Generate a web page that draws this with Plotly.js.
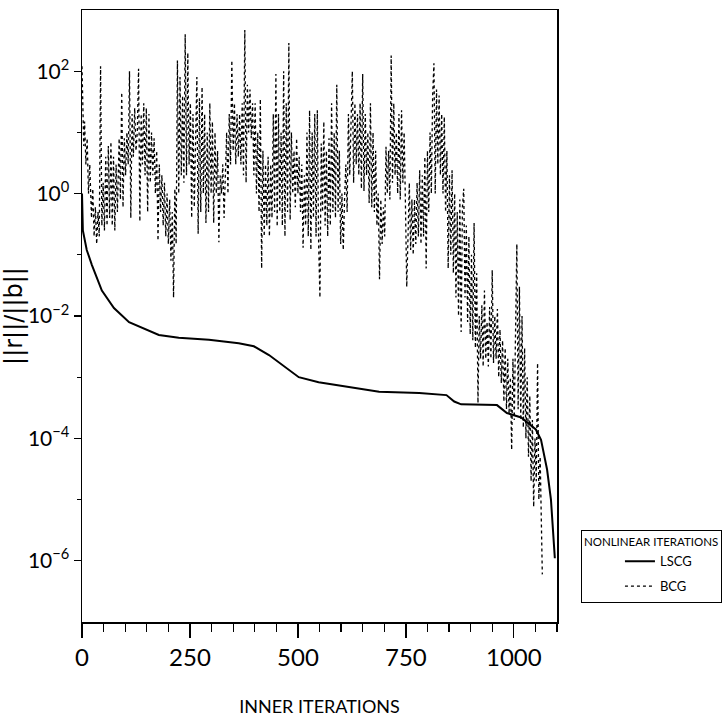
<!DOCTYPE html>
<html>
<head>
<meta charset="utf-8">
<script src="https://cdn.plot.ly/plotly-3.0.1.min.js"></script>
<style>
  html, body { margin: 0; padding: 0; background: #fff; }
  #chart { width: 724px; height: 720px; }
</style>
</head>
<body>
<div id="chart"></div>
<script>
// Relative residual ||r||/||b|| against inner iteration count.

// LSCG: smooth, monotone decrease
const lscgIter = [0, 2, 11, 23, 46, 74, 109, 143, 178, 224, 294, 363, 398, 433, 479, 502, 548,
  618, 688, 781, 844, 862, 878, 961, 984, 1017, 1051, 1063, 1077, 1086, 1095];
const lscgResid = [1.0, 2.5e-1, 1.2e-1, 6.8e-2, 2.6e-2, 1.35e-2, 7.9e-3, 6.3e-3, 4.9e-3, 4.4e-3,
  4.1e-3, 3.6e-3, 3.2e-3, 2.3e-3, 1.3e-3, 1.0e-3, 8.3e-4, 6.9e-4, 5.8e-4, 5.5e-4, 5.1e-4,
  4.0e-4, 3.6e-4, 3.5e-4, 2.6e-4, 2.2e-4, 1.4e-4, 9.5e-5, 3.1e-5, 1.0e-5, 1.1e-6];

// BCG: strongly oscillating residual
const bcgIter = [0, 2, 4, 6, 9, 12, 15, 18, 22, 25, 28, 31, 34, 37, 40, 43, 46, 49, 52, 55, 58,
  61, 64, 67, 70, 73, 76, 79, 82, 86, 89, 92, 95, 98, 101, 104, 107, 110, 113, 116, 119, 122,
  125, 128, 131, 134, 137, 140, 143, 146, 149, 152, 155, 158, 161, 164, 167, 170, 173, 176,
  179, 182, 185, 188, 191, 194, 197, 200, 203, 206, 209, 212, 215, 218, 221, 224, 227, 230,
  233, 236, 239, 242, 245, 248, 251, 254, 257, 260, 263, 266, 269, 272, 275, 278, 281, 284,
  287, 290, 293, 296, 299, 302, 305, 308, 311, 314, 317, 320, 323, 326, 329, 332, 335, 338,
  341, 344, 347, 350, 353, 356, 359, 362, 365, 368, 371, 374, 377, 380, 383, 386, 389, 392,
  395, 398, 401, 404, 407, 410, 413, 416, 419, 422, 425, 428, 431, 434, 437, 440, 443, 446,
  449, 452, 455, 458, 461, 464, 467, 470, 473, 476, 479, 482, 485, 488, 491, 494, 497, 500,
  503, 506, 509, 512, 515, 518, 521, 524, 527, 530, 533, 536, 539, 542, 545, 548, 551, 554,
  557, 560, 563, 566, 569, 572, 575, 578, 581, 584, 587, 590, 593, 596, 599, 602, 605, 608,
  611, 614, 617, 620, 623, 626, 629, 632, 635, 638, 641, 644, 647, 650, 653, 656, 659, 662,
  665, 668, 671, 674, 677, 680, 683, 686, 689, 692, 695, 698, 701, 704, 707, 710, 713, 716,
  719, 722, 725, 728, 731, 734, 737, 740, 743, 746, 749, 752, 755, 758, 761, 764, 767, 770,
  773, 776, 779, 782, 785, 788, 791, 794, 797, 800, 803, 806, 809, 812, 815, 818, 821, 824,
  827, 830, 833, 836, 839, 842, 845, 848, 851, 854, 857, 860, 863, 866, 869, 872, 875, 878,
  881, 884, 887, 890, 893, 896, 899, 902, 905, 908, 911, 914, 917, 920, 923, 926, 929, 932,
  935, 938, 941, 944, 947, 950, 953, 956, 959, 962, 965, 968, 971, 974, 977, 980, 983, 986,
  989, 992, 995, 998, 1001, 1004, 1007, 1010, 1013, 1016, 1019, 1022, 1025, 1028, 1031, 1034,
  1037, 1040, 1043, 1046, 1049, 1052, 1055, 1058, 1061, 1066];
const bcgResid = [1.2e2, 2e1, 6e0, 1.5e1, 3e0, 8e0, 1e0, 3e0, 4e-1, 1.2e0, 2e-1, 6e-1, 1.5e-1,
  5e-1, 2e-1, 1.2e2, 3e-1, 1.5e0, 2.5e-1, 4e0, 3e-1, 6e0, 4e-1, 7e0, 3e-1, 4e0, 2.5e-1, 3e0,
  5e-1, 8e0, 8e-1, 4.5e1, 6e-1, 8e0, 2e0, 1e1, 3e0, 1e2, 4e-1, 2e1, 4e0, 2.5e1, 5e0, 1e1,
  1.1e2, 3.5e-1, 2e1, 3e0, 3e1, 2e0, 2.5e1, 5e-1, 2e1, 1.5e0, 1e1, 2e0, 8e0, 1e0, 5e0,
  1.7e-1, 3e0, 5e-1, 2e0, 3e-1, 1.5e0, 2e-1, 1e0, 1.5e-1, 8e-1, 8e-2, 5e-1, 2e-2, 1.2e0,
  1.5e-1, 1.5e2, 1e0, 8e1, 2e0, 4e1, 1.5e0, 4e2, 2e0, 2e2, 3e0, 3e1, 4e-1, 2e1, 6e-1, 1.5e1,
  8e1, 2.2e-1, 3.6e1, 5e-1, 5.5e1, 1e0, 2e1, 3.3e-1, 1e1, 5e-1, 3e1, 1e0, 1.5e1, 3.3e-1,
  1e1, 1e0, 5e0, 1.6e-1, 2e0, 1e0, 3e0, 4e-1, 2e0, 1e1, 1e0, 2e1, 3e0, 1.5e2, 5e0, 3e1,
  3e0, 2e1, 4e0, 2e1, 3e0, 3e1, 2e0, 4.7e2, 1.5e0, 6e1, 1e1, 5e1, 8e0, 3e1, 2e0, 3e1, 1e0,
  1e1, 5e-1, 3.5e1, 6e-2, 5e0, 2e-1, 3e0, 3e-1, 4e0, 2e-1, 3e0, 4e-1, 2e1, 5e-1, 9e1,
  2.9e-1, 2e1, 5e-1, 1e1, 3e-1, 1e2, 2e-1, 3e1, 5e-1, 2.9e2, 3.7e-1, 1e1, 1e0, 5e0, 6e-1,
  8e0, 1e0, 4e0, 5e-1, 3e0, 1.3e-1, 2e0, 3e-1, 1e1, 2e-1, 2.3e1, 1.2e-1, 1e1, 4e-1, 2e1,
  2e-1, 2.3e1, 1.5e-1, 2e-2, 6.6e0, 5e-1, 1.5e1, 3e-1, 5e0, 2e-1, 8e0, 3e-1, 3e1, 5e-1,
  1e1, 4e-1, 6e1, 5e-1, 5e0, 1.5e-1, 1e0, 1.2e-1, 8e-1, 3e0, 5e-1, 2e1, 2e0, 3e1, 1e2,
  1.5e0, 3e1, 3e0, 2e1, 2e0, 3e1, 1.2e0, 9e1, 1.1e0, 2e1, 2e0, 1e1, 7e-1, 3e1, 6e-1, 1e1,
  5e-1, 5e0, 3e-1, 1e0, 4e-2, 8e-1, 1.5e-1, 6e-1, 2e-1, 5.8e0, 1e0, 5e0, 8e-1, 1.8e2, 1.5e0,
  3e1, 2e0, 1e1, 1e0, 2e1, 8e-1, 2.3e1, 1.5e0, 1e1, 7e-1, 3e-2, 2e-1, 1.5e0, 1.2e-1, 8e-1,
  1e-1, 8e-1, 1.5e-1, 1.5e0, 2e-1, 2.4e0, 1.5e-1, 2e0, 2e-1, 4e0, 6e-2, 5e0, 5e-1, 1e1,
  1e0, 4e1, 1.35e2, 1e0, 5e1, 3e0, 4e1, 2e0, 2e1, 1e0, 1.8e1, 5e-1, 5e0, 6e-2, 2e0, 1e-1,
  2.4e0, 5e-2, 1e0, 2e-2, 5e-1, 1e-2, 8e-1, 5.5e-3, 6e-1, 1.2e0, 2e-2, 3e-1, 8e-3, 2e-1,
  5e-3, 1e-1, 4e-3, 3.3e-1, 3e-3, 5e-2, 3.8e-4, 1e-2, 2e-3, 1.5e-2, 1.5e-3, 2.6e-2, 2e-3,
  8e-3, 1.5e-3, 1.4e-2, 2e-3, 5.6e-2, 1.7e-3, 1e-2, 2e-3, 1.3e-2, 1e-3, 6e-3, 8e-4, 4e-3,
  4e-4, 3e-3, 3e-4, 2e-3, 2.5e-4, 1e-3, 6.5e-5, 2e-3, 2e-4, 4e-3, 1.5e-1, 3e-4, 3e-2, 2e-4,
  1e-2, 1.5e-4, 3e-3, 1e-4, 1e-3, 5e-5, 5e-4, 2e-5, 2e-4, 7.6e-6, 1e-4, 2e-5, 1.7e-3, 1e-5,
  5e-5, 6e-7];

// axis ticks
const xTickVals = [0, 250, 500, 750, 1000];
const xTickText = ['0', '250', '500', '750', '1000'];
const yTickVals = [1e-6, 1e-4, 1e-2, 1e0, 1e2];
const yTickText = ['10<sup>\u22126</sup>', '10<sup>\u22124</sup>', '10<sup>\u22122</sup>', '10<sup>0</sup>', '10<sup>2</sup>'];
const yMinorVals = [1e-5, 1e-3, 1e-1, 1e1];

const FONT = 'Lato, Roboto, sans-serif';

const traces = [
  {
    x: lscgIter, y: lscgResid, type: 'scatter', mode: 'lines', name: 'LSCG',
    legendgroup: 'lscg',
    line: { color: '#000', width: 2 }
  },
  {
    x: bcgIter, y: bcgResid, type: 'scatter', mode: 'lines', name: 'BCG',
    legendgroup: 'bcg',
    line: { color: '#000', width: 1.3, dash: 'dot' }
  }
];

const layout = {
  width: 724, height: 720,
  margin: { l: 82, r: 167, t: 10, b: 98, autoexpand: false },
  paper_bgcolor: '#fff', plot_bgcolor: '#fff',
  font: { family: FONT, color: '#000' },
  showlegend: true,
  xaxis: {
    range: [0, 1100], showgrid: false, zeroline: false,
    showline: true, linecolor: '#000', linewidth: 1.5, mirror: true,
    tickmode: 'array', tickvals: xTickVals, ticktext: xTickText,
    ticks: 'outside', ticklen: 14, tickwidth: 1.3, tickcolor: '#000',
    tickfont: { size: 24, family: FONT },
    minor: { dtick: 50, ticks: 'outside', ticklen: 8, tickwidth: 1.2, tickcolor: '#000' },
    title: { text: 'INNER ITERATIONS', font: { size: 18, family: FONT }, standoff: 30 }
  },
  yaxis: {
    type: 'log', range: [-7, 3], showgrid: false, zeroline: false,
    showline: true, linecolor: '#000', linewidth: 1.5, mirror: true,
    tickmode: 'array', tickvals: yTickVals, ticktext: yTickText,
    ticks: 'outside', ticklen: 7, tickwidth: 1.3, tickcolor: '#000',
    tickfont: { size: 21, family: FONT },
    minor: { tickmode: 'array', tickvals: yMinorVals, ticks: 'outside', ticklen: 4, tickwidth: 1.2, tickcolor: '#000' },
    title: { text: '||r||/||b||', font: { size: 24, family: 'DejaVu Sans, sans-serif' }, standoff: 12 }
  },
  legend: {
    x: 1.05, xanchor: 'left', y: 0.15, yanchor: 'top',
    bgcolor: '#fff', bordercolor: '#000', borderwidth: 1.2,
    font: { size: 13, family: FONT },
    title: { text: 'NONLINEAR ITERATIONS', font: { size: 11.5, family: FONT } },
    indentation: 38, tracegroupgap: 5
  }
};

Plotly.newPlot('chart', traces, layout, { staticPlot: true, displayModeBar: false });
</script>
</body>
</html>
